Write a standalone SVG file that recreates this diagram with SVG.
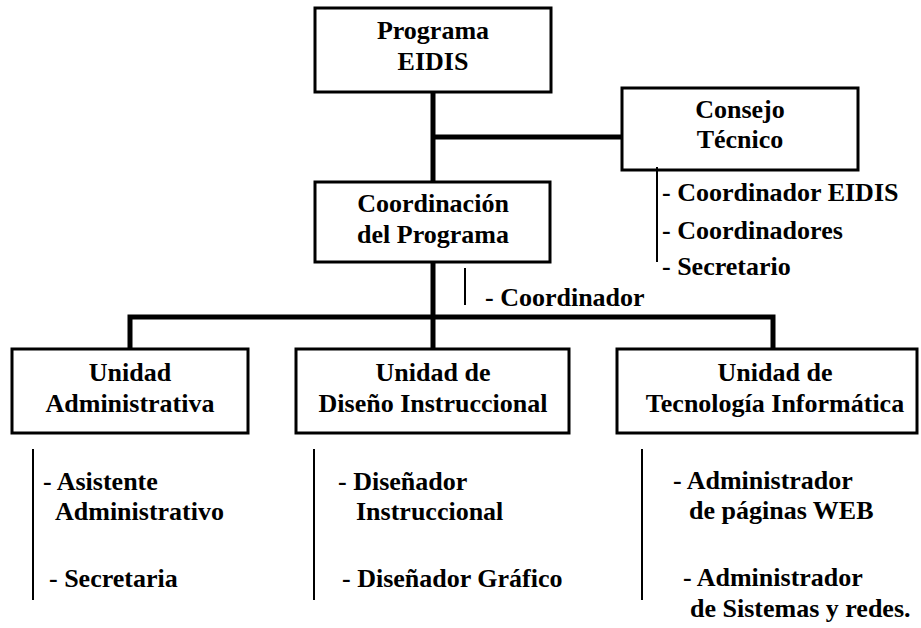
<svg xmlns="http://www.w3.org/2000/svg" width="921" height="628" viewBox="0 0 921 628">
<style>
.box{fill:#fff;stroke:#000;stroke-width:3}
.t{font-family:"Liberation Serif","Times New Roman",serif;font-weight:bold;font-size:26px;fill:#000}
.c{text-anchor:middle}
.thick{stroke:#000;stroke-width:5;fill:none}
.thin{stroke:#000;stroke-width:2;fill:none}
</style>
<rect width="921" height="628" fill="#fff"/>
<g id="connectors">
<line class="thick" x1="433" y1="92" x2="433" y2="182"/>
<line class="thick" x1="433" y1="137" x2="622" y2="137"/>
<line class="thick" x1="433" y1="262" x2="433" y2="349"/>
<polyline class="thick" points="130,349 130,317 773,317 773,349"/>
</g>
<g id="programa">
<rect class="box" x="315" y="8" width="236" height="84"/>
<text class="t c" x="433" y="39">Programa</text>
<text class="t c" x="433" y="70">EIDIS</text>
</g>
<g id="consejo">
<rect class="box" x="622" y="88" width="236" height="82"/>
<text class="t c" x="740" y="118">Consejo</text>
<text class="t c" x="740" y="148">Técnico</text>
<line class="thin" x1="657" y1="167" x2="657" y2="262"/>
<text class="t" x="662" y="201">- Coordinador EIDIS</text>
<text class="t" x="662" y="239">- Coordinadores</text>
<text class="t" x="662" y="275">- Secretario</text>
</g>
<g id="coordinacion">
<rect class="box" x="315" y="182" width="235" height="80"/>
<text class="t c" x="433" y="212">Coordinación</text>
<text class="t c" x="433" y="243">del Programa</text>
<line class="thin" x1="465" y1="268" x2="465" y2="305"/>
<text class="t" x="485" y="306">- Coordinador</text>
</g>
<g id="unidad-administrativa">
<rect class="box" x="12" y="349" width="236" height="84"/>
<text class="t c" x="130" y="381">Unidad</text>
<text class="t c" x="130" y="412">Administrativa</text>
<line class="thin" x1="33" y1="449" x2="33" y2="600"/>
<text class="t" x="43" y="490">- Asistente</text>
<text class="t" x="55" y="520">Administrativo</text>
<text class="t" x="49" y="587">- Secretaria</text>
</g>
<g id="unidad-diseno">
<rect class="box" x="296" y="349" width="273" height="84"/>
<text class="t c" x="433" y="381">Unidad de</text>
<text class="t c" x="433" y="412">Diseño Instruccional</text>
<line class="thin" x1="314" y1="449" x2="314" y2="600"/>
<text class="t" x="338" y="490">- Diseñador</text>
<text class="t" x="356" y="520">Instruccional</text>
<text class="t" x="342" y="587">- Diseñador Gráfico</text>
</g>
<g id="unidad-tecnologia">
<rect class="box" x="617" y="349" width="300" height="84"/>
<text class="t c" x="775" y="381">Unidad de</text>
<text class="t c" x="775" y="412">Tecnología Informática</text>
<line class="thin" x1="642" y1="449" x2="642" y2="600"/>
<text class="t" x="673" y="489">- Administrador</text>
<text class="t" x="689" y="519">de páginas WEB</text>
<text class="t" x="683" y="586">- Administrador</text>
<text class="t" x="690" y="617">de Sistemas y redes.</text>
</g>
</svg>
